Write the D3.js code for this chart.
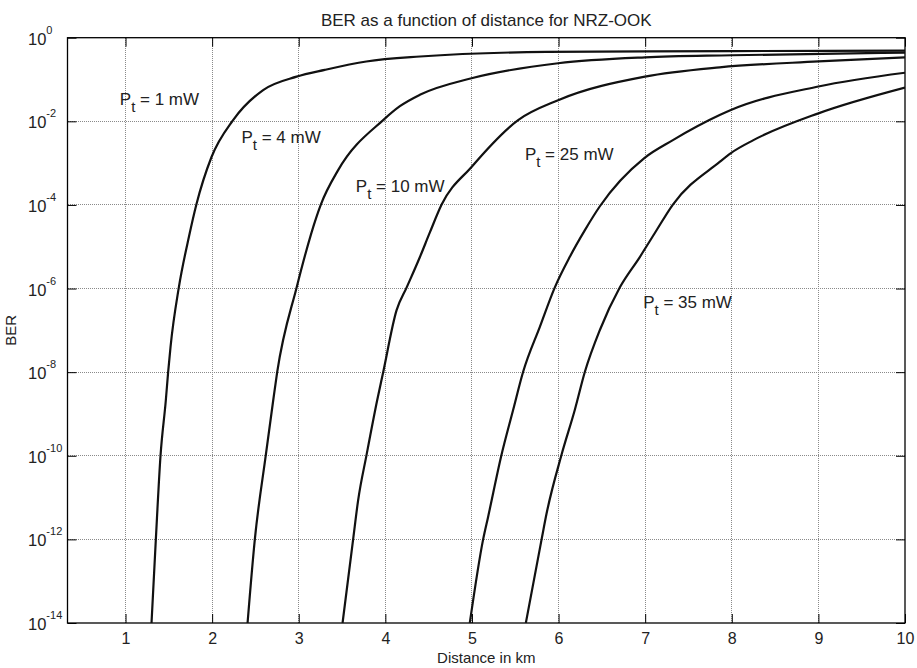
<!DOCTYPE html>
<html>
<head>
<meta charset="utf-8">
<script src="https://cdn.jsdelivr.net/npm/d3@7"></script>
<style>
  html, body { margin: 0; padding: 0; background: #fff; }
  svg { display: block; font-family: "Liberation Sans", Arial, Helvetica, sans-serif; }
</style>
</head>
<body>
<svg id="chart" width="917" height="668"></svg>
<script>
// ---- data ----
const title = "BER as a function of distance for NRZ-OOK";
const xLabel = "Distance in km";
const yLabel = "BER";
const xTicks = [1, 2, 3, 4, 5, 6, 7, 8, 9, 10];
const yTickExponents = [0, -2, -4, -6, -8, -10, -12, -14];

const pt1Dist = [1.30, 1.35, 1.404, 1.465, 1.492, 1.52, 1.615, 1.734, 1.818, 1.993, 2.242, 2.589, 2.975, 3.3, 3.78, 4.40, 5.86, 8.0, 10];
const pt1BER  = [1e-14, 1e-12, 1e-10, 2.1e-9, 1e-8, 4.1e-8, 1.05e-6, 1.8e-5, 1.02e-4, 1.4e-3, 1.07e-2, 5.6e-2, 0.117, 0.17, 0.27, 0.355, 0.457, 0.479, 0.49];

const pt4Dist = [2.409, 2.493, 2.62, 2.705, 2.751, 2.975, 3.205, 3.255, 3.455, 3.975, 4.168, 4.398, 4.995, 5.995, 6.997, 8.0, 10];
const pt4BER  = [1e-14, 1e-12, 1.05e-10, 2.1e-9, 1e-8, 1.05e-6, 5.2e-5, 1.02e-4, 6.8e-4, 1.07e-2, 2.3e-2, 4.3e-2, 0.107, 0.245, 0.34, 0.38, 0.44];

const pt10Dist = [3.506, 3.628, 3.686, 3.783, 3.905, 3.975, 4.129, 4.245, 4.398, 4.514, 4.65, 4.995, 5.533, 5.995, 6.997, 7.86, 9.0, 10];
const pt10BER  = [1e-14, 1e-12, 8.7e-12, 1.05e-10, 2.1e-9, 1e-8, 3.0e-7, 1.05e-6, 5.6e-6, 2.2e-5, 1.02e-4, 8.1e-4, 1.07e-2, 3.2e-2, 0.117, 0.195, 0.27, 0.34];

const pt25Dist = [4.975, 5.129, 5.187, 5.342, 5.476, 5.591, 5.785, 5.957, 6.13, 6.304, 6.477, 6.99, 7.32, 7.86, 7.99, 9.0, 10];
const pt25BER  = [1e-14, 1e-12, 3.5e-12, 1.07e-10, 1.26e-9, 1.02e-8, 1.23e-7, 1.07e-6, 5.75e-6, 2.5e-5, 9.3e-5, 1.32e-3, 3.55e-3, 1.41e-2, 1.86e-2, 6.8e-2, 0.145];

const pt35Dist = [5.622, 5.804, 5.862, 6.035, 6.188, 6.304, 6.477, 6.708, 6.94, 7.11, 7.32, 7.86, 7.99, 8.25, 9.0, 10];
const pt35BER  = [1e-14, 1e-12, 4.2e-12, 1.07e-10, 1.26e-9, 1.02e-8, 1.02e-7, 1.07e-6, 5.75e-6, 2.1e-5, 1.02e-4, 1.07e-3, 1.74e-3, 3.55e-3, 1.55e-2, 6.4e-2];

const seriesNames = ["1", "4", "10", "25", "35"];
const seriesDist = [pt1Dist, pt4Dist, pt10Dist, pt25Dist, pt35Dist];
const seriesBER = [pt1BER, pt4BER, pt10BER, pt25BER, pt35BER];

// label anchors (km, BER)
const labelDist = [0.934, 2.339, 3.659, 5.611, 6.977];
const labelBER  = [2.45e-2, 2.97e-3, 2.06e-4, 1.18e-3, 3.35e-7];

// ---- layout ----
const svg = d3.select("#chart");
const L = 67.5, R = 905, T = 37.7, B = 623;

const x = d3.scaleLinear().domain([0.33, 10]).range([L, R]);
const y = d3.scaleLog().domain([1e-14, 1]).range([B, T]);

// grid
const grid = svg.append("g").attr("stroke", "#8a8a8a").attr("stroke-width", 1)
  .attr("stroke-dasharray", "1,1").attr("shape-rendering", "crispEdges");
xTicks.slice(0, -1).forEach(t => {
  grid.append("line").attr("x1", x(t)).attr("x2", x(t)).attr("y1", T).attr("y2", B);
});
yTickExponents.slice(1, -1).forEach(e => {
  grid.append("line").attr("x1", L).attr("x2", R).attr("y1", y(Math.pow(10, e))).attr("y2", y(Math.pow(10, e)));
});

// axes with inner ticks
const tickLen = 9;
const xAxisB = d3.axisBottom(x).tickValues(xTicks).tickSizeInner(-tickLen).tickSizeOuter(0).tickPadding(14);
const gxb = svg.append("g").attr("transform", `translate(0,${B})`).call(xAxisB);
gxb.select(".domain").remove();
gxb.selectAll("line").attr("stroke", "#000");
gxb.selectAll("text").attr("font-size", 16).attr("fill", "#222")
  .attr("font-family", "Liberation Sans, Arial, sans-serif").attr("dy", "0.71em").attr("y", 10);

const xAxisT = d3.axisTop(x).tickValues(xTicks).tickSizeInner(-tickLen).tickSizeOuter(0).tickFormat("");
const gxt = svg.append("g").attr("transform", `translate(0,${T})`).call(xAxisT);
gxt.select(".domain").remove();
gxt.selectAll("line").attr("stroke", "#000");

const yVals = yTickExponents.map(e => Math.pow(10, e));
const yAxisL = d3.axisLeft(y).tickValues(yVals).tickSizeInner(-tickLen).tickSizeOuter(0).tickFormat("");
const gyl = svg.append("g").attr("transform", `translate(${L},0)`).call(yAxisL);
gyl.select(".domain").remove();
gyl.selectAll("line").attr("stroke", "#000");

const yAxisR = d3.axisRight(y).tickValues(yVals).tickSizeInner(-tickLen).tickSizeOuter(0).tickFormat("");
const gyr = svg.append("g").attr("transform", `translate(${R},0)`).call(yAxisR);
gyr.select(".domain").remove();
gyr.selectAll("line").attr("stroke", "#000");

// y tick labels 10^e
const yl = svg.append("g").attr("font-size", 16.5).attr("fill", "#222");
yTickExponents.forEach(e => {
  const yy = y(Math.pow(10, e));
  const t = yl.append("text").attr("x", 28).attr("y", yy + 7);
  t.append("tspan").text("10");
  t.append("tspan").attr("dy", -11).attr("font-size", 11).text(String(e));
});

// frame
svg.append("rect").attr("x", L).attr("y", T).attr("width", R - L).attr("height", B - T)
  .attr("fill", "none").attr("stroke", "#000").attr("stroke-width", 1.3);

// curves
svg.append("clipPath").attr("id", "clip").append("rect")
  .attr("x", L).attr("y", T).attr("width", R - L).attr("height", B - T);
const line = d3.line().x(d => x(d[0])).y(d => y(d[1])).curve(d3.curveMonotoneX);
const cg = svg.append("g").attr("clip-path", "url(#clip)");
seriesDist.forEach((ds, i) => {
  const pts = ds.map((d, j) => [d, seriesBER[i][j]]);
  cg.append("path").datum(pts).attr("d", line)
    .attr("fill", "none").attr("stroke", "#111").attr("stroke-width", 2.2)
    .attr("stroke-linejoin", "round");
});

// series labels
const lg = svg.append("g").attr("font-size", 17).attr("fill", "#222");
seriesNames.forEach((n, i) => {
  const t = lg.append("text").attr("x", x(labelDist[i])).attr("y", y(labelBER[i]));
  t.append("tspan").text("P");
  t.append("tspan").attr("dy", 7).attr("font-size", 15).text("t");
  t.append("tspan").attr("dy", -7).text(" = " + n + " mW");
});

// title and axis labels
svg.append("text").attr("x", (L + R) / 2).attr("y", 26).attr("text-anchor", "middle")
  .attr("font-size", 17).attr("fill", "#222").text(title);
svg.append("text").attr("x", (L + R) / 2).attr("y", 663).attr("text-anchor", "middle")
  .attr("font-size", 15).attr("fill", "#222").text(xLabel);
svg.append("text").attr("transform", `translate(16,${(T + B) / 2}) rotate(-90)`)
  .attr("text-anchor", "middle").attr("font-size", 15).attr("fill", "#222").text(yLabel);
</script>
</body>
</html>
